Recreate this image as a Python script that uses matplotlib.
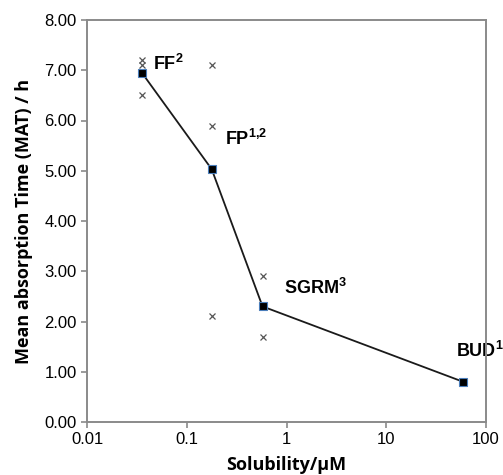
import matplotlib
matplotlib.use("Agg")
import matplotlib.pyplot as plt

plt.rcParams["mathtext.fontset"] = "custom"
plt.rcParams["mathtext.rm"] = "Liberation Sans"
plt.rcParams["mathtext.bf"] = "Liberation Sans:bold"
plt.rcParams["mathtext.it"] = "Liberation Sans:italic"

# mean values (line)
sol_mean = [0.0355, 0.178, 0.575, 59.0]
mat_mean = [6.95, 5.03, 2.30, 0.80]
names = [r"$\mathbf{FF}^{\mathbf{2}}$", r"$\mathbf{FP}^{\mathbf{1{,}2}}$",
         r"$\mathbf{SGRM}^{\mathbf{3}}$", r"$\mathbf{BUD}^{\mathbf{1}}$"]

# individual values (crosses)
sol_ind = [0.0355, 0.0355, 0.0355, 0.178, 0.178, 0.178, 0.575, 0.575]
mat_ind = [7.2, 7.1, 6.5, 7.1, 5.9, 2.1, 2.9, 1.7]

label_x = [0.0457, 0.24, 0.95, 50.0]
label_y = [7.12, 5.63, 2.67, 1.41]

yticks = [0, 1, 2, 3, 4, 5, 6, 7, 8]
xticks = [0.01, 0.1, 1, 10, 100]
xticklabels = ["0.01", "0.1", "1", "10", "100"]

fig = plt.figure(figsize=(5.03, 4.75), dpi=100)
ax = fig.add_axes([87/503, 1-422/475, (486-87)/503, (422-20)/475])

ax.plot(sol_mean, mat_mean, color="#1a1a1a", lw=1.3, marker="s", ms=6,
        mfc="black", mec="#4a7ebb", mew=0.8, zorder=3)
ax.plot(sol_ind, mat_ind, ls="none", marker="x", ms=5, mew=0.9,
        color="#555555", zorder=2)

for n, lx, ly in zip(names, label_x, label_y):
    ax.text(lx, ly, n, fontsize=13, color="black", ha="left", va="center",
            clip_on=False, zorder=1)

ax.set_xscale("log")
ax.set_xlim(0.01, 100)
ax.set_ylim(0, 8)
ax.set_xticks(xticks)
ax.set_xticklabels(xticklabels)
ax.minorticks_off()
ax.set_yticks(yticks)
ax.set_yticklabels([f"{v:.2f}" for v in yticks])

for s in ax.spines.values():
    s.set_color("#8a8a8a")
    s.set_linewidth(1.4)
    s.set_zorder(4)
ax.tick_params(axis="both", colors="#8a8a8a", labelcolor="black", length=4,
               width=1.2, labelsize=12, direction="out")
for lab in ax.get_xticklabels() + ax.get_yticklabels():
    lab.set_family("Liberation Sans")

ax.set_xlabel("Solubility/μM", fontsize=13, fontweight="bold",
              family="Open Sans", labelpad=6)
ax.set_ylabel("Mean absorption Time (MAT) / h", fontsize=13, fontweight="bold",
              family="Open Sans", labelpad=8)

fig.savefig("out.png", dpi=100)
